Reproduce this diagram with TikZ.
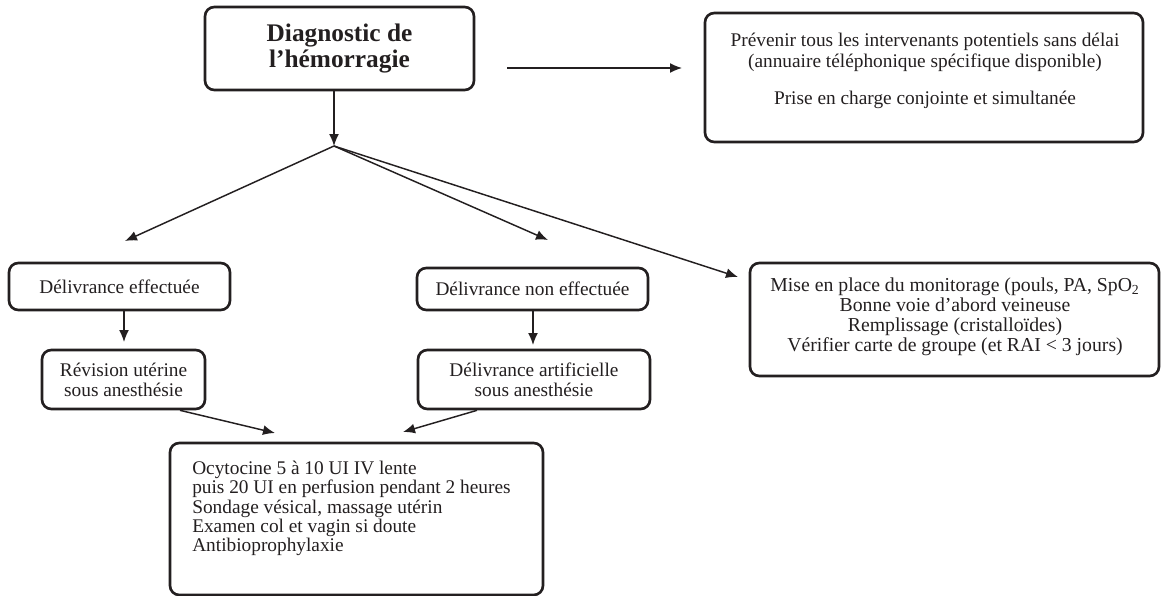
\documentclass[tikz,border=0pt]{standalone}
\usepackage{fontspec}
\setmainfont{Liberation Serif}
\usetikzlibrary{arrows.meta,calc}
\definecolor{ink}{HTML}{231F20}
\begin{document}
\begin{tikzpicture}[x=0.75pt,y=-0.75pt,
  box/.style={draw=ink, line width=2pt, rounded corners=7pt, inner sep=0pt, text=ink, align=center,
    font=\fontsize{14.5}{15}\selectfont},
  txt/.style={text=ink, inner sep=0pt, font=\fontsize{14.5}{15}\selectfont},
  arr/.style={draw=ink, line width=1.1pt, -{Latex[length=9pt,width=7.5pt]}}]
\useasboundingbox (0,0) rectangle (1161,596);

% boxes
\node[box, minimum width=269*0.75pt, minimum height=83*0.75pt,
      font=\fontsize{19}{20}\selectfont\bfseries] (diag) at (339.5,48.5)
      {Diagnostic de\\l’hémorragie};
\node[box, minimum width=438*0.75pt, minimum height=129*0.75pt] (prev) at (924,77.5) {};
\node[txt, align=center, font=\fontsize{14.5}{15.75}\selectfont] (prevt) at (925,71)
      {Prévenir tous les intervenants potentiels sans délai\\
       (annuaire téléphonique spécifique disponible)\\[12pt]
       Prise en charge conjointe et simultanée};
\node[box, minimum width=221*0.75pt, minimum height=47*0.75pt] (deff) at (119.5,286.5)
      {Délivrance effectuée};
\node[box, minimum width=163*0.75pt, minimum height=59*0.75pt] (rev) at (123.5,379.5)
      {Révision utérine\\sous anesthésie};
\node[box, minimum width=231*0.75pt, minimum height=42*0.75pt] (dnon) at (532.5,289)
      {Délivrance non effectuée};
\node[box, minimum width=232*0.75pt, minimum height=59*0.75pt] (dart) at (534,379.5)
      {Délivrance artificielle\\sous anesthésie};
\node[box, minimum width=409*0.75pt, minimum height=113*0.75pt] (mise) at (954.5,319.5) {};
\node[txt, align=center, font=\fontsize{14.8}{15}\selectfont] (miset) at (955,317)
      {Mise en place du monitorage (pouls, PA, SpO\textsubscript{2}\\
       Bonne voie d’abord veineuse\\
       Remplissage (cristalloïdes)\\
       Vérifier carte de groupe (et RAI < 3 jours)};
\node[box, minimum width=373*0.75pt, minimum height=152*0.75pt] (ocy) at (356.5,519) {};
\node[txt, align=left, anchor=west, font=\fontsize{14.5}{14.5}\selectfont] (ocyt) at (192,508.5)
      {Ocytocine 5 à 10 UI IV lente\\
       puis 20 UI en perfusion pendant 2 heures\\
       Sondage vésical, massage utérin\\
       Examen col et vagin si doute\\
       Antibioprophylaxie};

% coordinates for free arrow ends
\coordinate (br) at (334,146);
\coordinate (hs) at (507,68);
\coordinate (he) at (682,68);
\coordinate (tl) at (125,241);
\coordinate (tm) at (548,240);
\coordinate (tr) at (738,277);
\coordinate (t1) at (124,342);
\coordinate (t2) at (533,345);
\coordinate (t3) at (275,433);
\coordinate (t4) at (403,432);

% connectors
\draw[arr] (diag.south -| br) -- (br);
\draw[arr] (hs) -- (he);
\draw[arr] (br) -- (tl);
\draw[arr] (br) -- (tm);
\draw[arr] (br) -- (tr);
\draw[arr] (deff.south -| t1) -- (t1);
\draw[arr] (dnon.south -| t2) -- (t2);
\draw[arr] ($(rev.south)+(56.5,0)$) -- (t3);
\draw[arr] ($(dart.south)+(-57,0)$) -- (t4);
\end{tikzpicture}
\end{document}
